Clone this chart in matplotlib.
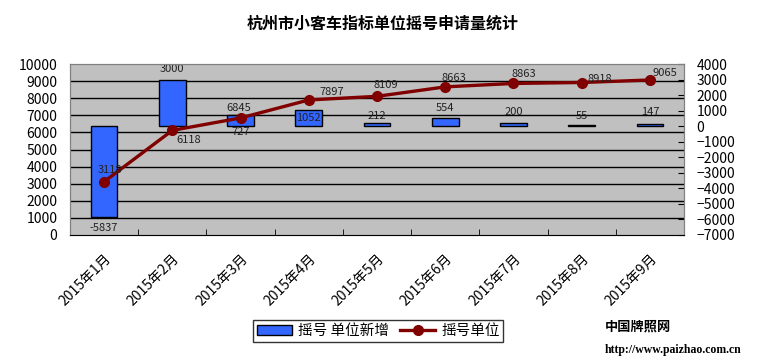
import matplotlib
matplotlib.use("Agg")
import matplotlib.pyplot as plt
import matplotlib.transforms as mtransforms
import numpy as np

plt.rcParams['font.family'] = ['Noto Sans CJK SC', 'DejaVu Sans']

months = ["2015年1月", "2015年2月", "2015年3月", "2015年4月", "2015年5月",
          "2015年6月", "2015年7月", "2015年8月", "2015年9月"]
units = [3118, 6118, 6845, 7897, 8109, 8663, 8863, 8918, 9065]        # 摇号单位 (left axis)
new_units = [-5837, 3000, 727, 1052, 212, 554, 200, 55, 147]           # 摇号 单位新增 (right axis)

# label offsets in pixels (style only)
line_lbl_off = [(6, 12), (16, -10), (-2, 10), (23, 8), (9, 11), (9, 9), (10, 9), (18, 4), (15, 7)]
bar_lbl_off = [-11, 11, -6, -8, 7, 10, 11, 9, 12]

BLUE = "#3366FF"
RED = "#800000"
GRAY = "#C0C0C0"

fig = plt.figure(figsize=(7.66, 3.64), dpi=100)
ax = fig.add_axes([70 / 766, 1 - 235 / 364, 614 / 766, 171 / 364])
ax2 = ax.twinx()

x = np.arange(len(months))

# bar axis underneath, with the grey background and the gridlines
ax.set_zorder(ax2.get_zorder() + 1)
ax.patch.set_visible(False)
ax2.patch.set_visible(True)
ax2.patch.set_facecolor(GRAY)

left_ticks = np.arange(0, 10001, 1000)
trans = mtransforms.blended_transform_factory(ax2.transAxes, ax.transData)
ax.set_ylim(0, 10000)
ax2.set_ylim(-7000, 4000)
ax2.hlines(left_ticks[1:-1], 0, 1, transform=trans, colors="black", lw=1, zorder=0)

bars = ax2.bar(x, new_units, width=0.39, color=BLUE, edgecolor="black", lw=1, zorder=2)
for i, v in enumerate(new_units):
    top = 0 if i == 2 else v
    ax2.annotate(str(v), (x[i], top), xytext=(0, bar_lbl_off[i]), textcoords="offset pixels",
                 ha="center", va="center", fontsize=8, color="#222222", zorder=3)

ax.plot(x, units, color=RED, lw=2.4, marker="o", ms=7, zorder=5)
for i, v in enumerate(units):
    ax.annotate(str(v), (x[i], v), xytext=line_lbl_off[i], textcoords="offset pixels",
                ha="center", va="center", fontsize=8, color="#222222", zorder=6)

ax.set_xlim(-0.5, len(months) - 0.5)
ax.set_yticks(left_ticks)
ax.tick_params(axis="y", length=0, pad=9, labelsize=10)
ax2.set_yticks(np.arange(-7000, 4001, 1000))
ax2.tick_params(axis="y", direction="in", length=4, pad=9, labelsize=10)

ax.set_xticks(x)
ax.set_xticklabels(months, rotation=45, ha="right", va="top", fontsize=10,
                   rotation_mode="anchor")
shift = mtransforms.ScaledTranslation(-8 / 100, 0, fig.dpi_scale_trans)
for lbl in ax.get_xticklabels():
    lbl.set_transform(lbl.get_transform() + shift)
ax.set_xticks(np.arange(-0.5, len(months), 1)[1:-1], minor=True)
ax.tick_params(axis="x", which="major", length=0, pad=12)
ax.tick_params(axis="x", which="minor", direction="in", length=4)
ax2.tick_params(axis="x", length=0)

for a in (ax, ax2):
    for s in a.spines.values():
        s.set_color("#808080")
ax.spines["bottom"].set_color("black")

fig.text(0.5, 1 - 24 / 364, "杭州市小客车指标单位摇号申请量统计", ha="center", va="center",
         fontsize=11.5, fontweight="bold")

handles = [bars, ax.lines[0]]
leg = fig.legend(handles, ["摇号 单位新增", "摇号单位"], loc="center",
                 bbox_to_anchor=(0.494, 1 - 331 / 364), ncol=2, fontsize=10.5,
                 frameon=True, fancybox=False, edgecolor="black", handlelength=2.4,
                 borderpad=0.25, columnspacing=0.8, handletextpad=0.4)
leg.get_frame().set_linewidth(1)

fig.text(605 / 766, 1 - 327 / 364, "中国牌照网", ha="left", va="center", fontsize=9.5,
         fontweight="bold")
fig.text(605 / 766, 1 - 350 / 364, "http://www.paizhao.com.cn", ha="left", va="center",
         fontsize=8.5, fontweight="bold", family=["Liberation Serif"])

fig.savefig("out.png", dpi=100)
